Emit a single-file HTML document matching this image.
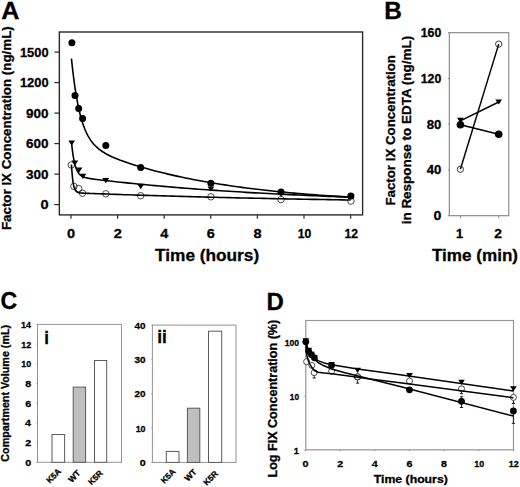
<!DOCTYPE html>
<html><head><meta charset="utf-8"><title>Figure</title>
<style>html,body{margin:0;padding:0;background:#fff;overflow:hidden;}svg{display:block;}</style></head>
<body><svg width="520" height="487" viewBox="0 0 520 487">
<rect width="520" height="487" fill="#fff"/>
<text x="1.27" y="18.80" font-family="Liberation Sans, sans-serif" font-weight="bold" font-size="24.60" textLength="18.19" lengthAdjust="spacingAndGlyphs" stroke="#000" stroke-width="0.3">A</text>
<text x="384.27" y="18.80" font-family="Liberation Sans, sans-serif" font-weight="bold" font-size="24.60" textLength="17.64" lengthAdjust="spacingAndGlyphs" stroke="#000" stroke-width="0.3">B</text>
<text x="0.45" y="309.40" font-family="Liberation Sans, sans-serif" font-weight="bold" font-size="24.60" textLength="16.68" lengthAdjust="spacingAndGlyphs" stroke="#000" stroke-width="0.3">C</text>
<text x="266.50" y="309.50" font-family="Liberation Sans, sans-serif" font-weight="bold" font-size="24.60" textLength="17.31" lengthAdjust="spacingAndGlyphs" stroke="#000" stroke-width="0.3">D</text>
<rect x="59.35" y="32.0" width="303.25" height="182.9" fill="none" stroke="#2a2a2a" stroke-width="1.4"/>
<line x1="59.35" y1="204.6" x2="54.35" y2="204.6" stroke="#2a2a2a" stroke-width="1.2"/>
<text x="40.51" y="209.20" font-family="Liberation Sans, sans-serif" font-weight="bold" font-size="13.20" textLength="8.09" lengthAdjust="spacingAndGlyphs" stroke="#000" stroke-width="0.3">0</text>
<line x1="59.35" y1="174.1" x2="54.35" y2="174.1" stroke="#2a2a2a" stroke-width="1.2"/>
<text x="26.09" y="178.70" font-family="Liberation Sans, sans-serif" font-weight="bold" font-size="13.20" textLength="22.46" lengthAdjust="spacingAndGlyphs" stroke="#000" stroke-width="0.3">300</text>
<line x1="59.35" y1="143.6" x2="54.35" y2="143.6" stroke="#2a2a2a" stroke-width="1.2"/>
<text x="26.09" y="148.20" font-family="Liberation Sans, sans-serif" font-weight="bold" font-size="13.20" textLength="22.46" lengthAdjust="spacingAndGlyphs" stroke="#000" stroke-width="0.3">600</text>
<line x1="59.35" y1="113.1" x2="54.35" y2="113.1" stroke="#2a2a2a" stroke-width="1.2"/>
<text x="26.09" y="117.70" font-family="Liberation Sans, sans-serif" font-weight="bold" font-size="13.20" textLength="22.46" lengthAdjust="spacingAndGlyphs" stroke="#000" stroke-width="0.3">900</text>
<line x1="59.35" y1="82.6" x2="54.35" y2="82.6" stroke="#2a2a2a" stroke-width="1.2"/>
<text x="19.96" y="87.20" font-family="Liberation Sans, sans-serif" font-weight="bold" font-size="13.20" textLength="28.57" lengthAdjust="spacingAndGlyphs" stroke="#000" stroke-width="0.3">1200</text>
<line x1="59.35" y1="52.1" x2="54.35" y2="52.1" stroke="#2a2a2a" stroke-width="1.2"/>
<text x="19.96" y="56.70" font-family="Liberation Sans, sans-serif" font-weight="bold" font-size="13.20" textLength="28.57" lengthAdjust="spacingAndGlyphs" stroke="#000" stroke-width="0.3">1500</text>
<line x1="71.0" y1="214.9" x2="71.0" y2="218.70000000000002" stroke="#2a2a2a" stroke-width="1.2"/>
<text x="67.07" y="237.60" font-family="Liberation Sans, sans-serif" font-weight="bold" font-size="13.20" textLength="8.09" lengthAdjust="spacingAndGlyphs" stroke="#000" stroke-width="0.3">0</text>
<line x1="117.6" y1="214.9" x2="117.6" y2="218.70000000000002" stroke="#2a2a2a" stroke-width="1.2"/>
<text x="113.70" y="237.60" font-family="Liberation Sans, sans-serif" font-weight="bold" font-size="13.20" textLength="8.09" lengthAdjust="spacingAndGlyphs" stroke="#000" stroke-width="0.3">2</text>
<line x1="164.2" y1="214.9" x2="164.2" y2="218.70000000000002" stroke="#2a2a2a" stroke-width="1.2"/>
<text x="160.19" y="237.60" font-family="Liberation Sans, sans-serif" font-weight="bold" font-size="13.20" textLength="8.09" lengthAdjust="spacingAndGlyphs" stroke="#000" stroke-width="0.3">4</text>
<line x1="210.8" y1="214.9" x2="210.8" y2="218.70000000000002" stroke="#2a2a2a" stroke-width="1.2"/>
<text x="206.85" y="237.60" font-family="Liberation Sans, sans-serif" font-weight="bold" font-size="13.20" textLength="8.09" lengthAdjust="spacingAndGlyphs" stroke="#000" stroke-width="0.3">6</text>
<line x1="257.4" y1="214.9" x2="257.4" y2="218.70000000000002" stroke="#2a2a2a" stroke-width="1.2"/>
<text x="253.45" y="237.60" font-family="Liberation Sans, sans-serif" font-weight="bold" font-size="13.20" textLength="8.09" lengthAdjust="spacingAndGlyphs" stroke="#000" stroke-width="0.3">8</text>
<line x1="304.0" y1="214.9" x2="304.0" y2="218.70000000000002" stroke="#2a2a2a" stroke-width="1.2"/>
<text x="297.87" y="237.60" font-family="Liberation Sans, sans-serif" font-weight="bold" font-size="13.20" textLength="13.52" lengthAdjust="spacingAndGlyphs" stroke="#000" stroke-width="0.3">10</text>
<line x1="350.6" y1="214.9" x2="350.6" y2="218.70000000000002" stroke="#2a2a2a" stroke-width="1.2"/>
<text x="344.46" y="237.60" font-family="Liberation Sans, sans-serif" font-weight="bold" font-size="13.20" textLength="13.52" lengthAdjust="spacingAndGlyphs" stroke="#000" stroke-width="0.3">12</text>
<text x="155.11" y="260.70" font-family="Liberation Sans, sans-serif" font-weight="bold" font-size="16.80" textLength="104.05" lengthAdjust="spacingAndGlyphs" stroke="#000" stroke-width="0.3">Time (hours)</text>
<text transform="translate(10.60,229.20) rotate(-90)" x="-0.89" y="0" font-family="Liberation Sans, sans-serif" font-weight="bold" font-size="13.40" textLength="203.86" lengthAdjust="spacingAndGlyphs" stroke="#000" stroke-width="0.3">Factor IX Concentration (ng/mL)</text>
<polyline points="71.47,58.69 71.85,62.44 72.24,66.03 72.63,69.48 73.01,72.78 73.40,75.94 73.79,78.98 74.18,81.89 74.56,84.68 74.95,87.36 75.34,89.93 75.72,92.39 76.11,94.76 76.50,97.03 76.88,99.20 77.27,101.29 77.66,103.30 78.05,105.22 78.43,107.07 78.82,108.85 79.21,110.56 79.59,112.20 79.98,113.77 80.37,115.28 80.75,116.74 81.14,118.14 81.53,119.48 81.92,120.78 82.30,122.02 82.69,123.22 83.08,124.37 83.46,125.48 83.85,126.55 84.24,127.58 84.62,128.57 85.01,129.52 85.40,130.44 85.79,131.33 86.17,132.19 86.56,133.01 86.95,133.81 87.33,134.57 87.72,135.32 88.11,136.03 88.49,136.72 88.88,137.39 89.27,138.04 89.66,138.66 90.04,139.27 90.43,139.85 90.82,140.42 91.20,140.97 91.59,141.50 91.98,142.01 92.36,142.51 92.75,143.00 93.14,143.47 93.53,143.92 93.91,144.36 94.30,144.79 94.30,144.79 98.64,148.89 102.99,152.01 107.33,154.53 111.68,156.66 116.02,158.53 120.36,160.22 124.71,161.79 129.05,163.27 133.40,164.67 137.74,166.02 142.08,167.31 146.43,168.55 150.77,169.74 155.12,170.90 159.46,172.01 163.81,173.09 168.15,174.13 172.49,175.14 176.84,176.11 181.18,177.05 185.53,177.96 189.87,178.84 194.21,179.69 198.56,180.52 202.90,181.31 207.25,182.08 211.59,182.83 215.93,183.54 220.28,184.24 224.62,184.91 228.97,185.56 233.31,186.19 237.65,186.80 242.00,187.39 246.34,187.96 250.69,188.51 255.03,189.04 259.37,189.55 263.72,190.05 268.06,190.53 272.41,190.99 276.75,191.44 281.09,191.88 285.44,192.30 289.78,192.71 294.13,193.10 298.47,193.48 302.82,193.85 307.16,194.20 311.50,194.54 315.85,194.88 320.19,195.20 324.54,195.51 328.88,195.81 333.22,196.10 337.57,196.38 341.91,196.65 346.26,196.91 350.60,197.17" fill="none" stroke="#000" stroke-width="1.6" stroke-linejoin="round"/>
<polyline points="71.47,141.91 71.85,145.70 72.24,149.09 72.63,152.11 73.01,154.81 73.40,157.22 73.79,159.38 74.18,161.30 74.56,163.02 74.95,164.56 75.34,165.94 75.72,167.17 76.11,168.28 76.50,169.27 76.88,170.15 77.27,170.95 77.66,171.66 78.05,172.31 78.43,172.89 78.82,173.41 79.21,173.88 79.59,174.30 79.98,174.68 80.37,175.03 80.75,175.34 81.14,175.63 81.53,175.89 81.92,176.13 82.30,176.34 82.69,176.54 83.08,176.72 83.46,176.89 83.85,177.04 84.24,177.19 84.62,177.32 85.01,177.44 85.40,177.56 85.79,177.67 86.17,177.77 86.56,177.86 86.95,177.96 87.33,178.04 87.72,178.12 88.11,178.20 88.49,178.28 88.88,178.35 89.27,178.42 89.66,178.48 90.04,178.55 90.43,178.61 90.82,178.67 91.20,178.73 91.59,178.79 91.98,178.85 92.36,178.90 92.75,178.96 93.14,179.01 93.53,179.06 93.91,179.12 94.30,179.17 94.30,179.17 98.64,179.72 102.99,180.24 107.33,180.74 111.68,181.23 116.02,181.71 120.36,182.18 124.71,182.64 129.05,183.10 133.40,183.54 137.74,183.97 142.08,184.40 146.43,184.81 150.77,185.22 155.12,185.62 159.46,186.01 163.81,186.39 168.15,186.76 172.49,187.13 176.84,187.49 181.18,187.84 185.53,188.19 189.87,188.52 194.21,188.85 198.56,189.18 202.90,189.50 207.25,189.81 211.59,190.11 215.93,190.41 220.28,190.70 224.62,190.99 228.97,191.27 233.31,191.54 237.65,191.81 242.00,192.07 246.34,192.33 250.69,192.58 255.03,192.83 259.37,193.07 263.72,193.31 268.06,193.54 272.41,193.77 276.75,193.99 281.09,194.21 285.44,194.42 289.78,194.63 294.13,194.84 298.47,195.04 302.82,195.23 307.16,195.43 311.50,195.62 315.85,195.80 320.19,195.98 324.54,196.16 328.88,196.33 333.22,196.50 337.57,196.67 341.91,196.83 346.26,196.99 350.60,197.15" fill="none" stroke="#000" stroke-width="1.6" stroke-linejoin="round"/>
<polyline points="71.47,164.47 71.85,170.47 72.24,175.20 72.63,178.93 73.01,181.87 73.40,184.20 73.79,186.03 74.18,187.48 74.56,188.62 74.95,189.53 75.34,190.25 75.72,190.82 76.11,191.27 76.50,191.63 76.88,191.91 77.27,192.14 77.66,192.33 78.05,192.47 78.43,192.59 78.82,192.69 79.21,192.77 79.59,192.84 79.98,192.89 80.37,192.94 80.75,192.98 81.14,193.02 81.53,193.05 81.92,193.07 82.30,193.10 82.69,193.12 83.08,193.14 83.46,193.16 83.85,193.18 84.24,193.20 84.62,193.22 85.01,193.23 85.40,193.25 85.79,193.27 86.17,193.28 86.56,193.30 86.95,193.31 87.33,193.33 87.72,193.34 88.11,193.36 88.49,193.37 88.88,193.39 89.27,193.40 89.66,193.42 90.04,193.43 90.43,193.45 90.82,193.46 91.20,193.48 91.59,193.49 91.98,193.51 92.36,193.52 92.75,193.54 93.14,193.55 93.53,193.56 93.91,193.58 94.30,193.59 94.30,193.59 98.64,193.75 102.99,193.91 107.33,194.07 111.68,194.23 116.02,194.38 120.36,194.53 124.71,194.68 129.05,194.82 133.40,194.96 137.74,195.11 142.08,195.25 146.43,195.38 150.77,195.52 155.12,195.65 159.46,195.78 163.81,195.91 168.15,196.04 172.49,196.17 176.84,196.29 181.18,196.41 185.53,196.53 189.87,196.65 194.21,196.77 198.56,196.88 202.90,196.99 207.25,197.11 211.59,197.22 215.93,197.32 220.28,197.43 224.62,197.54 228.97,197.64 233.31,197.74 237.65,197.84 242.00,197.94 246.34,198.04 250.69,198.14 255.03,198.23 259.37,198.32 263.72,198.42 268.06,198.51 272.41,198.60 276.75,198.69 281.09,198.77 285.44,198.86 289.78,198.94 294.13,199.02 298.47,199.11 302.82,199.19 307.16,199.27 311.50,199.34 315.85,199.42 320.19,199.50 324.54,199.57 328.88,199.65 333.22,199.72 337.57,199.79 341.91,199.86 346.26,199.93 350.60,200.00" fill="none" stroke="#000" stroke-width="1.6" stroke-linejoin="round"/>
<circle cx="71.3" cy="165.0" r="3.25" fill="none" stroke="#111" stroke-width="0.75"/>
<circle cx="73.9" cy="186.4" r="3.25" fill="none" stroke="#111" stroke-width="0.75"/>
<circle cx="78.7" cy="188.6" r="3.25" fill="none" stroke="#111" stroke-width="0.75"/>
<circle cx="82.5" cy="193.2" r="3.25" fill="none" stroke="#111" stroke-width="0.75"/>
<circle cx="105.8" cy="193.8" r="3.25" fill="none" stroke="#111" stroke-width="0.75"/>
<circle cx="140.7" cy="195.7" r="3.25" fill="none" stroke="#111" stroke-width="0.75"/>
<circle cx="210.9" cy="196.8" r="3.25" fill="none" stroke="#111" stroke-width="0.75"/>
<circle cx="281.0" cy="199.6" r="3.25" fill="none" stroke="#111" stroke-width="0.75"/>
<circle cx="350.9" cy="201.1" r="3.25" fill="none" stroke="#111" stroke-width="0.75"/>
<path d="M68.30,140.40 L75.10,140.40 L71.70,145.60 Z" fill="#000"/>
<path d="M71.40,160.50 L78.20,160.50 L74.80,165.70 Z" fill="#000"/>
<path d="M75.60,167.50 L82.40,167.50 L79.00,172.70 Z" fill="#000"/>
<path d="M79.50,173.80 L86.30,173.80 L82.90,179.00 Z" fill="#000"/>
<path d="M102.40,178.00 L109.20,178.00 L105.80,183.20 Z" fill="#000"/>
<path d="M137.30,184.00 L144.10,184.00 L140.70,189.20 Z" fill="#000"/>
<path d="M207.50,186.40 L214.30,186.40 L210.90,191.60 Z" fill="#000"/>
<path d="M277.60,191.40 L284.40,191.40 L281.00,196.60 Z" fill="#000"/>
<path d="M347.50,194.60 L354.30,194.60 L350.90,199.80 Z" fill="#000"/>
<circle cx="71.9" cy="42.7" r="3.5" fill="#000"/>
<circle cx="75.0" cy="95.6" r="3.5" fill="#000"/>
<circle cx="78.7" cy="108.6" r="3.5" fill="#000"/>
<circle cx="82.6" cy="118.4" r="3.5" fill="#000"/>
<circle cx="105.8" cy="145.4" r="3.5" fill="#000"/>
<circle cx="140.7" cy="167.6" r="3.5" fill="#000"/>
<circle cx="210.9" cy="183.2" r="3.5" fill="#000"/>
<circle cx="281.0" cy="191.9" r="3.5" fill="#000"/>
<circle cx="350.9" cy="195.9" r="3.5" fill="#000"/>
<rect x="449.3" y="32.7" width="59.5" height="183.0" fill="none" stroke="#848484" stroke-width="1.1"/>
<line x1="449.3" y1="215.7" x2="448.1" y2="215.7" stroke="#848484" stroke-width="1"/>
<text x="433.51" y="220.10" font-family="Liberation Sans, sans-serif" font-weight="bold" font-size="12.60" textLength="7.87" lengthAdjust="spacingAndGlyphs" stroke="#000" stroke-width="0.3">0</text>
<line x1="449.3" y1="169.9" x2="448.1" y2="169.9" stroke="#848484" stroke-width="1"/>
<text x="426.76" y="174.35" font-family="Liberation Sans, sans-serif" font-weight="bold" font-size="12.60" textLength="14.58" lengthAdjust="spacingAndGlyphs" stroke="#000" stroke-width="0.3">40</text>
<line x1="449.3" y1="124.2" x2="448.1" y2="124.2" stroke="#848484" stroke-width="1"/>
<text x="426.76" y="128.60" font-family="Liberation Sans, sans-serif" font-weight="bold" font-size="12.60" textLength="14.58" lengthAdjust="spacingAndGlyphs" stroke="#000" stroke-width="0.3">80</text>
<line x1="449.3" y1="78.4" x2="448.1" y2="78.4" stroke="#848484" stroke-width="1"/>
<text x="420.78" y="82.85" font-family="Liberation Sans, sans-serif" font-weight="bold" font-size="12.60" textLength="20.52" lengthAdjust="spacingAndGlyphs" stroke="#000" stroke-width="0.3">120</text>
<line x1="449.3" y1="32.7" x2="448.1" y2="32.7" stroke="#848484" stroke-width="1"/>
<text x="420.78" y="37.10" font-family="Liberation Sans, sans-serif" font-weight="bold" font-size="12.60" textLength="20.52" lengthAdjust="spacingAndGlyphs" stroke="#000" stroke-width="0.3">160</text>
<line x1="460.4" y1="215.7" x2="460.4" y2="218.2" stroke="#848484" stroke-width="1"/>
<text x="456.12" y="238.00" font-family="Liberation Sans, sans-serif" font-weight="bold" font-size="12.80" textLength="7.12" lengthAdjust="spacingAndGlyphs" stroke="#000" stroke-width="0.3">1</text>
<line x1="498.7" y1="215.7" x2="498.7" y2="218.2" stroke="#848484" stroke-width="1"/>
<text x="494.39" y="238.00" font-family="Liberation Sans, sans-serif" font-weight="bold" font-size="12.80" textLength="7.69" lengthAdjust="spacingAndGlyphs" stroke="#000" stroke-width="0.3">2</text>
<text x="432.01" y="260.70" font-family="Liberation Sans, sans-serif" font-weight="bold" font-size="16.80" textLength="86.04" lengthAdjust="spacingAndGlyphs" stroke="#000" stroke-width="0.3">Time (min)</text>
<text transform="translate(395.00,204.70) rotate(-90)" x="-0.89" y="0" font-family="Liberation Sans, sans-serif" font-weight="bold" font-size="13.40" textLength="150.51" lengthAdjust="spacingAndGlyphs" stroke="#000" stroke-width="0.3">Factor IX Concentration</text>
<text transform="translate(410.80,223.40) rotate(-90)" x="-0.93" y="0" font-family="Liberation Sans, sans-serif" font-weight="bold" font-size="13.40" textLength="188.55" lengthAdjust="spacingAndGlyphs" stroke="#000" stroke-width="0.3">in Response to EDTA (ng/mL)</text>
<line x1="460.4" y1="124.8" x2="498.7" y2="134.3" stroke="#000" stroke-width="1.45"/>
<line x1="460.4" y1="120.8" x2="498.7" y2="102.0" stroke="#000" stroke-width="1.45"/>
<line x1="460.4" y1="169.3" x2="498.7" y2="44.1" stroke="#000" stroke-width="1.45"/>
<path d="M457.00,117.83 L463.80,117.83 L460.40,123.03 Z" fill="#000"/>
<path d="M495.30,99.41 L502.10,99.41 L498.70,104.61 Z" fill="#000"/>
<circle cx="460.4" cy="124.8" r="3.8" fill="#000"/>
<circle cx="498.7" cy="134.3" r="3.8" fill="#000"/>
<circle cx="460.4" cy="169.3" r="3.15" fill="none" stroke="#111" stroke-width="0.8"/>
<circle cx="498.7" cy="44.1" r="3.15" fill="none" stroke="#111" stroke-width="0.8"/>
<text transform="translate(8.60,461.20) rotate(-90)" x="-0.44" y="0" font-family="Liberation Sans, sans-serif" font-weight="bold" font-size="10.40" textLength="136.67" lengthAdjust="spacingAndGlyphs" stroke="#000" stroke-width="0.3">Compartment Volume (mL)</text>
<rect x="37.5" y="324.4" width="84.0" height="137.90000000000003" fill="none" stroke="#939393" stroke-width="1"/>
<line x1="37.5" y1="462.3" x2="36.3" y2="462.3" stroke="#939393" stroke-width="0.8"/>
<text x="25.39" y="465.80" font-family="Liberation Sans, sans-serif" font-weight="bold" font-size="9.90" textLength="5.95" lengthAdjust="spacingAndGlyphs" stroke="#000" stroke-width="0.3">0</text>
<line x1="37.5" y1="442.6" x2="36.3" y2="442.6" stroke="#939393" stroke-width="0.8"/>
<text x="25.38" y="446.10" font-family="Liberation Sans, sans-serif" font-weight="bold" font-size="9.90" textLength="5.95" lengthAdjust="spacingAndGlyphs" stroke="#000" stroke-width="0.3">2</text>
<line x1="37.5" y1="422.9" x2="36.3" y2="422.9" stroke="#939393" stroke-width="0.8"/>
<text x="25.01" y="426.40" font-family="Liberation Sans, sans-serif" font-weight="bold" font-size="9.90" textLength="5.95" lengthAdjust="spacingAndGlyphs" stroke="#000" stroke-width="0.3">4</text>
<line x1="37.5" y1="403.2" x2="36.3" y2="403.2" stroke="#939393" stroke-width="0.8"/>
<text x="25.34" y="406.70" font-family="Liberation Sans, sans-serif" font-weight="bold" font-size="9.90" textLength="5.95" lengthAdjust="spacingAndGlyphs" stroke="#000" stroke-width="0.3">6</text>
<line x1="37.5" y1="383.5" x2="36.3" y2="383.5" stroke="#939393" stroke-width="0.8"/>
<text x="25.28" y="387.00" font-family="Liberation Sans, sans-serif" font-weight="bold" font-size="9.90" textLength="5.95" lengthAdjust="spacingAndGlyphs" stroke="#000" stroke-width="0.3">8</text>
<line x1="37.5" y1="363.8" x2="36.3" y2="363.8" stroke="#939393" stroke-width="0.8"/>
<text x="21.35" y="367.30" font-family="Liberation Sans, sans-serif" font-weight="bold" font-size="9.90" textLength="9.92" lengthAdjust="spacingAndGlyphs" stroke="#000" stroke-width="0.3">10</text>
<line x1="37.5" y1="344.1" x2="36.3" y2="344.1" stroke="#939393" stroke-width="0.8"/>
<text x="21.34" y="347.60" font-family="Liberation Sans, sans-serif" font-weight="bold" font-size="9.90" textLength="9.92" lengthAdjust="spacingAndGlyphs" stroke="#000" stroke-width="0.3">12</text>
<line x1="37.5" y1="324.4" x2="36.3" y2="324.4" stroke="#939393" stroke-width="0.8"/>
<text x="20.99" y="327.90" font-family="Liberation Sans, sans-serif" font-weight="bold" font-size="9.90" textLength="9.96" lengthAdjust="spacingAndGlyphs" stroke="#000" stroke-width="0.3">14</text>
<rect x="52.0" y="434.5" width="12.599999999999994" height="27.80000000000001" fill="#fff" stroke="#5a5a5a" stroke-width="1"/>
<text transform="translate(55.60,477.85) rotate(-45)" font-family="Liberation Sans, sans-serif" font-weight="bold" font-size="8.4" text-anchor="middle" stroke="#000" stroke-width="0.3">K5A</text>
<rect x="73.2" y="387.1" width="12.399999999999991" height="75.19999999999999" fill="#bfbfbf" stroke="#5a5a5a" stroke-width="1"/>
<text transform="translate(76.30,478.30) rotate(-45)" font-family="Liberation Sans, sans-serif" font-weight="bold" font-size="8.4" text-anchor="middle" stroke="#000" stroke-width="0.3">WT</text>
<rect x="94.5" y="360.5" width="12.200000000000003" height="101.80000000000001" fill="#fff" stroke="#5a5a5a" stroke-width="1"/>
<text transform="translate(97.35,479.55) rotate(-45)" font-family="Liberation Sans, sans-serif" font-weight="bold" font-size="8.4" text-anchor="middle" stroke="#000" stroke-width="0.3">K5R</text>
<text x="44.13" y="343.60" font-family="Liberation Sans, sans-serif" font-weight="bold" font-size="17.60" textLength="4.66" lengthAdjust="spacingAndGlyphs" stroke="#000" stroke-width="0.3">i</text>
<rect x="152.4" y="325.1" width="83.6" height="137.29999999999995" fill="none" stroke="#939393" stroke-width="1"/>
<line x1="152.4" y1="462.4" x2="151.20000000000002" y2="462.4" stroke="#939393" stroke-width="0.8"/>
<text x="139.69" y="465.90" font-family="Liberation Sans, sans-serif" font-weight="bold" font-size="9.90" textLength="5.95" lengthAdjust="spacingAndGlyphs" stroke="#000" stroke-width="0.3">0</text>
<line x1="152.4" y1="428.1" x2="151.20000000000002" y2="428.1" stroke="#939393" stroke-width="0.8"/>
<text x="135.65" y="431.57" font-family="Liberation Sans, sans-serif" font-weight="bold" font-size="9.90" textLength="9.92" lengthAdjust="spacingAndGlyphs" stroke="#000" stroke-width="0.3">10</text>
<line x1="152.4" y1="393.8" x2="151.20000000000002" y2="393.8" stroke="#939393" stroke-width="0.8"/>
<text x="134.59" y="397.25" font-family="Liberation Sans, sans-serif" font-weight="bold" font-size="9.90" textLength="11.01" lengthAdjust="spacingAndGlyphs" stroke="#000" stroke-width="0.3">20</text>
<line x1="152.4" y1="359.4" x2="151.20000000000002" y2="359.4" stroke="#939393" stroke-width="0.8"/>
<text x="134.59" y="362.93" font-family="Liberation Sans, sans-serif" font-weight="bold" font-size="9.90" textLength="11.01" lengthAdjust="spacingAndGlyphs" stroke="#000" stroke-width="0.3">30</text>
<line x1="152.4" y1="325.1" x2="151.20000000000002" y2="325.1" stroke="#939393" stroke-width="0.8"/>
<text x="134.59" y="328.60" font-family="Liberation Sans, sans-serif" font-weight="bold" font-size="9.90" textLength="11.01" lengthAdjust="spacingAndGlyphs" stroke="#000" stroke-width="0.3">40</text>
<rect x="166.3" y="451.4" width="12.699999999999989" height="11.0" fill="#fff" stroke="#5a5a5a" stroke-width="1"/>
<text transform="translate(170.20,478.10) rotate(-45)" font-family="Liberation Sans, sans-serif" font-weight="bold" font-size="8.4" text-anchor="middle" stroke="#000" stroke-width="0.3">K5A</text>
<rect x="187.4" y="408.2" width="12.400000000000006" height="54.19999999999999" fill="#bfbfbf" stroke="#5a5a5a" stroke-width="1"/>
<text transform="translate(192.55,477.15) rotate(-45)" font-family="Liberation Sans, sans-serif" font-weight="bold" font-size="8.4" text-anchor="middle" stroke="#000" stroke-width="0.3">WT</text>
<rect x="208.5" y="331.2" width="13.199999999999989" height="131.2" fill="#fff" stroke="#5a5a5a" stroke-width="1"/>
<text transform="translate(212.65,480.10) rotate(-45)" font-family="Liberation Sans, sans-serif" font-weight="bold" font-size="8.4" text-anchor="middle" stroke="#000" stroke-width="0.3">K5R</text>
<text x="157.24" y="343.10" font-family="Liberation Sans, sans-serif" font-weight="bold" font-size="17.60" textLength="9.64" lengthAdjust="spacingAndGlyphs" stroke="#000" stroke-width="0.3">ii</text>
<rect x="305.8" y="320.5" width="207.7" height="129.3" fill="none" stroke="#959595" stroke-width="1.2"/>
<line x1="305.8" y1="450.2" x2="304.3" y2="450.2" stroke="#959595" stroke-width="1"/>
<text x="293.83" y="453.50" font-family="Liberation Sans, sans-serif" font-weight="bold" font-size="9.70" textLength="5.12" lengthAdjust="spacingAndGlyphs" stroke="#000" stroke-width="0.3">1</text>
<line x1="305.8" y1="396.2" x2="304.3" y2="396.2" stroke="#959595" stroke-width="1"/>
<text x="289.86" y="399.50" font-family="Liberation Sans, sans-serif" font-weight="bold" font-size="9.70" textLength="9.18" lengthAdjust="spacingAndGlyphs" stroke="#000" stroke-width="0.3">10</text>
<line x1="305.8" y1="342.2" x2="304.3" y2="342.2" stroke="#959595" stroke-width="1"/>
<text x="284.71" y="345.50" font-family="Liberation Sans, sans-serif" font-weight="bold" font-size="9.70" textLength="14.34" lengthAdjust="spacingAndGlyphs" stroke="#000" stroke-width="0.3">100</text>
<line x1="305.5" y1="449.8" x2="305.5" y2="451.3" stroke="#959595" stroke-width="1"/>
<text x="302.53" y="467.30" font-family="Liberation Sans, sans-serif" font-weight="bold" font-size="9.90" textLength="5.95" lengthAdjust="spacingAndGlyphs" stroke="#000" stroke-width="0.3">0</text>
<line x1="340.1" y1="449.8" x2="340.1" y2="451.3" stroke="#959595" stroke-width="1"/>
<text x="337.21" y="467.30" font-family="Liberation Sans, sans-serif" font-weight="bold" font-size="9.90" textLength="5.95" lengthAdjust="spacingAndGlyphs" stroke="#000" stroke-width="0.3">2</text>
<line x1="374.8" y1="449.8" x2="374.8" y2="451.3" stroke="#959595" stroke-width="1"/>
<text x="371.77" y="467.30" font-family="Liberation Sans, sans-serif" font-weight="bold" font-size="9.90" textLength="5.95" lengthAdjust="spacingAndGlyphs" stroke="#000" stroke-width="0.3">4</text>
<line x1="409.4" y1="449.8" x2="409.4" y2="451.3" stroke="#959595" stroke-width="1"/>
<text x="406.47" y="467.30" font-family="Liberation Sans, sans-serif" font-weight="bold" font-size="9.90" textLength="5.95" lengthAdjust="spacingAndGlyphs" stroke="#000" stroke-width="0.3">6</text>
<line x1="444.1" y1="449.8" x2="444.1" y2="451.3" stroke="#959595" stroke-width="1"/>
<text x="441.12" y="467.30" font-family="Liberation Sans, sans-serif" font-weight="bold" font-size="9.90" textLength="5.95" lengthAdjust="spacingAndGlyphs" stroke="#000" stroke-width="0.3">8</text>
<line x1="478.8" y1="449.8" x2="478.8" y2="451.3" stroke="#959595" stroke-width="1"/>
<text x="474.19" y="467.30" font-family="Liberation Sans, sans-serif" font-weight="bold" font-size="9.90" textLength="9.92" lengthAdjust="spacingAndGlyphs" stroke="#000" stroke-width="0.3">10</text>
<line x1="513.4" y1="449.8" x2="513.4" y2="451.3" stroke="#959595" stroke-width="1"/>
<text x="508.83" y="467.30" font-family="Liberation Sans, sans-serif" font-weight="bold" font-size="9.90" textLength="9.92" lengthAdjust="spacingAndGlyphs" stroke="#000" stroke-width="0.3">12</text>
<text x="373.76" y="482.80" font-family="Liberation Sans, sans-serif" font-weight="bold" font-size="11.30" textLength="74.05" lengthAdjust="spacingAndGlyphs" stroke="#000" stroke-width="0.3">Time (hours)</text>
<text transform="translate(276.60,476.70) rotate(-90)" x="-0.84" y="0" font-family="Liberation Sans, sans-serif" font-weight="bold" font-size="12.80" textLength="157.77" lengthAdjust="spacingAndGlyphs" stroke="#000" stroke-width="0.3">Log FIX Concentration (%)</text>
<line x1="314.2" y1="375" x2="314.2" y2="378.0" stroke="#000" stroke-width="0.8"/>
<line x1="312.59999999999997" y1="378.0" x2="315.8" y2="378.0" stroke="#000" stroke-width="0.9"/>
<line x1="357.6" y1="379" x2="357.6" y2="383.1" stroke="#000" stroke-width="0.8"/>
<line x1="356.0" y1="383.1" x2="359.20000000000005" y2="383.1" stroke="#000" stroke-width="0.9"/>
<line x1="461.5" y1="401" x2="461.5" y2="407.5" stroke="#000" stroke-width="0.8"/>
<line x1="459.9" y1="407.5" x2="463.1" y2="407.5" stroke="#000" stroke-width="0.9"/>
<line x1="461.5" y1="401" x2="461.5" y2="396.8" stroke="#000" stroke-width="0.8"/>
<line x1="459.9" y1="396.8" x2="463.1" y2="396.8" stroke="#000" stroke-width="0.9"/>
<line x1="513.4" y1="410" x2="513.4" y2="423.3" stroke="#000" stroke-width="0.8"/>
<line x1="511.79999999999995" y1="423.3" x2="515.0" y2="423.3" stroke="#000" stroke-width="0.9"/>
<line x1="461.5" y1="391" x2="461.5" y2="393.7" stroke="#000" stroke-width="0.8"/>
<line x1="459.9" y1="393.7" x2="463.1" y2="393.7" stroke="#000" stroke-width="0.9"/>
<line x1="513.4" y1="400" x2="513.4" y2="403.4" stroke="#000" stroke-width="0.8"/>
<line x1="511.79999999999995" y1="403.4" x2="515.0" y2="403.4" stroke="#000" stroke-width="0.9"/>
<circle cx="305.8" cy="341.8" r="3.4" fill="#000"/>
<circle cx="308.7" cy="351.3" r="3.4" fill="#000"/>
<circle cx="311.5" cy="354.8" r="3.4" fill="#000"/>
<circle cx="314.4" cy="357.8" r="3.4" fill="#000"/>
<circle cx="331.6" cy="365.3" r="3.4" fill="#000"/>
<circle cx="357.6" cy="376.8" r="3.4" fill="#000"/>
<circle cx="409.5" cy="389.8" r="3.4" fill="#000"/>
<circle cx="461.5" cy="401.3" r="3.4" fill="#000"/>
<circle cx="513.4" cy="410.9" r="3.4" fill="#000"/>
<path d="M302.50,338.35 L309.10,338.35 L305.80,343.65 Z" fill="#000"/>
<path d="M305.40,347.85 L312.00,347.85 L308.70,353.15 Z" fill="#000"/>
<path d="M308.20,351.85 L314.80,351.85 L311.50,357.15 Z" fill="#000"/>
<path d="M311.10,355.35 L317.70,355.35 L314.40,360.65 Z" fill="#000"/>
<path d="M328.30,361.95 L334.90,361.95 L331.60,367.25 Z" fill="#000"/>
<path d="M354.30,367.75 L360.90,367.75 L357.60,373.05 Z" fill="#000"/>
<path d="M406.20,372.95 L412.80,372.95 L409.50,378.25 Z" fill="#000"/>
<path d="M458.20,379.75 L464.80,379.75 L461.50,385.05 Z" fill="#000"/>
<path d="M510.10,386.25 L516.70,386.25 L513.40,391.55 Z" fill="#000"/>
<circle cx="306.6" cy="361.6" r="3.0" fill="#fff" stroke="#111" stroke-width="0.75"/>
<circle cx="311.8" cy="365.4" r="3.0" fill="#fff" stroke="#111" stroke-width="0.75"/>
<circle cx="314.2" cy="372.6" r="3.0" fill="#fff" stroke="#111" stroke-width="0.75"/>
<circle cx="331.6" cy="371.2" r="3.0" fill="#fff" stroke="#111" stroke-width="0.75"/>
<circle cx="357.6" cy="376.8" r="3.0" fill="#fff" stroke="#111" stroke-width="0.75"/>
<circle cx="409.5" cy="381.0" r="3.0" fill="#fff" stroke="#111" stroke-width="0.75"/>
<circle cx="461.5" cy="388.8" r="3.0" fill="#fff" stroke="#111" stroke-width="0.75"/>
<circle cx="513.4" cy="397.4" r="3.0" fill="#fff" stroke="#111" stroke-width="0.75"/>
<polyline points="305.8,341.6 308,349.5 311,354.5 314.4,358.2 318,360.6 324,362.9 331.6,364.8 357.6,369.0 400,374.8 513.4,391.0" fill="none" stroke="#000" stroke-width="1.5" stroke-linejoin="round"/>
<polyline points="305.8,341.6 306.2,350 307.2,357 309,362.5 311.5,367 314.4,370.5 318,372.2 324,373.1 331.6,373.8 345,375.6 370,378.9 400,382.8 513.4,397.8" fill="none" stroke="#000" stroke-width="1.5" stroke-linejoin="round"/>
<polyline points="305.8,341.6 308,350 311,355.5 314.4,359.2 318,362.5 324,365.8 331.6,369.0 345,372.8 370,378.9 400,386.4 513.4,416.1" fill="none" stroke="#000" stroke-width="1.5" stroke-linejoin="round"/>
</svg></body></html>
